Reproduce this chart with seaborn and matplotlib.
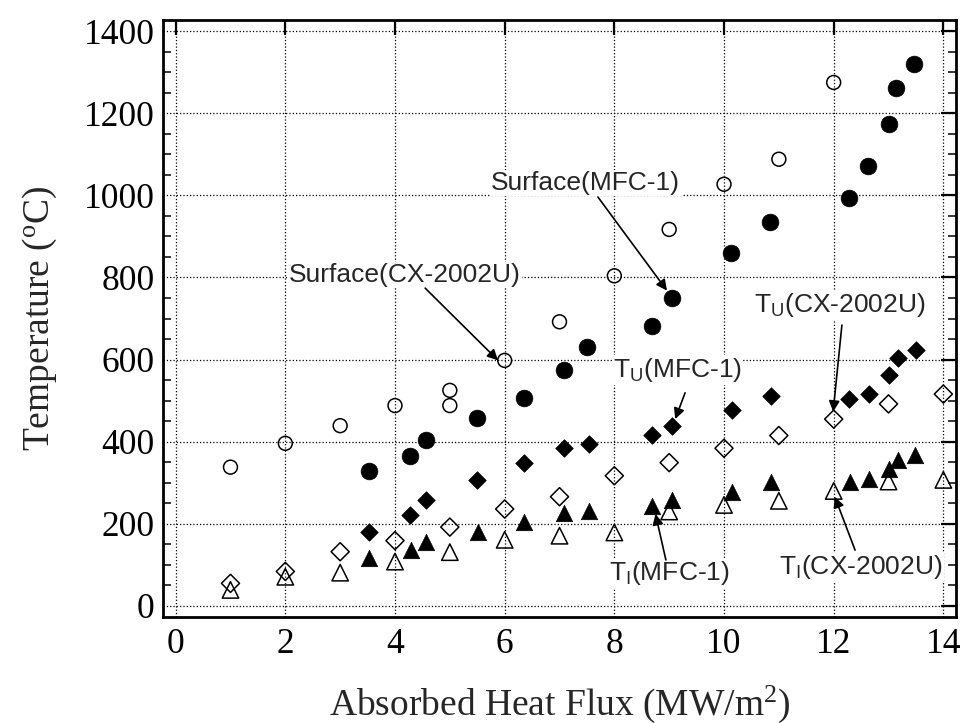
import matplotlib
matplotlib.use("Agg")
import matplotlib.pyplot as plt
import seaborn as sns
from matplotlib.ticker import MultipleLocator

# heat flux (MW/m2) and temperatures (deg C)
surf_cx_x = [1, 2, 3, 4, 5, 5, 6, 7, 8, 9, 10, 11, 12]
surf_cx_y = [338, 396, 439, 488, 525, 488, 598, 692, 804, 917, 1027, 1088, 1275]

surf_mfc_x = [3.53, 4.28, 4.56, 5.50, 6.36, 7.09, 7.51, 8.68, 9.05, 10.12, 10.84, 12.28, 12.63, 13.0, 13.14, 13.47]
surf_mfc_y = [329, 365, 404, 457, 506, 575, 631, 682, 751, 859, 936, 993, 1072, 1173, 1262, 1321]

tu_mfc_x = [3.53, 4.28, 4.56, 5.50, 6.36, 7.09, 7.53, 8.68, 9.05, 10.14, 10.85, 12.28, 12.64, 13.0, 13.18, 13.51]
tu_mfc_y = [179, 222, 258, 307, 349, 384, 394, 416, 437, 476, 511, 504, 516, 562, 603, 623]

tu_cx_x = [1, 2, 3, 4, 5, 6, 7, 8, 9, 10, 11, 12, 13, 14]
tu_cx_y = [55, 84, 132, 159, 192, 236, 266, 317, 349, 384, 415, 455, 492, 516]

ti_mfc_x = [3.53, 4.29, 4.57, 5.51, 6.36, 7.09, 7.53, 8.69, 9.06, 10.15, 10.86, 12.30, 12.65, 13.0, 13.18, 13.49]
ti_mfc_y = [116, 136, 155, 181, 205, 226, 230, 244, 258, 278, 301, 301, 309, 334, 355, 368]

ti_cx_x = [1, 2, 3, 4, 5, 6, 7, 8, 9, 10, 11, 12, 13, 14]
ti_cx_y = [39, 71, 81, 108, 131, 161, 171, 179, 230, 246, 256, 280, 303, 307]

# (label, text position, arrow start, arrow tip)
annotations = [
    ("Surface(CX-2002U)", (4.17, 806), (4.55, 774), (5.88, 598)),
    ("Surface(MFC-1)", (7.48, 1030), (7.70, 996), (8.96, 768)),
    ("T$_U$(MFC-1)", (9.15, 575), (9.29, 519), (9.11, 455)),
    ("T$_U$(CX-2002U)", (12.11, 733), (12.15, 684), (11.99, 473)),
    ("T$_I$(MFC-1)", (9.0, 80), (8.94, 112), (8.75, 224)),
    ("T$_I$(CX-2002U)", (12.5, 95), (12.39, 136), (12.02, 266)),
]

sns.set_style("white")
plt.rcParams["font.family"] = ["Liberation Serif", "DejaVu Serif"]
plt.rcParams["mathtext.default"] = "regular"

fig = plt.figure(figsize=(9.63, 7.23), dpi=100)
ax = fig.add_axes([0.1693, 0.1466, 0.8234, 0.8257])

open_kw = dict(facecolor="none", edgecolor="black", linewidth=1.1, zorder=3)
fill_kw = dict(color="black", edgecolor="black", linewidth=0.5, zorder=3)

sns.scatterplot(x=surf_cx_x, y=surf_cx_y, marker="o", s=100, ax=ax, **open_kw)
sns.scatterplot(x=surf_mfc_x, y=surf_mfc_y, marker="o", s=145, ax=ax, **fill_kw)
sns.scatterplot(x=tu_mfc_x, y=tu_mfc_y, marker="D", s=80, ax=ax, **fill_kw)
sns.scatterplot(x=tu_cx_x, y=tu_cx_y, marker="D", s=85, ax=ax, **open_kw)
sns.scatterplot(x=ti_mfc_x, y=ti_mfc_y, marker="^", s=140, ax=ax, **fill_kw)
sns.scatterplot(x=ti_cx_x, y=ti_cx_y, marker="^", s=140, ax=ax, **open_kw)

for label, txt, start, tip in annotations:
    ax.text(*txt, label, family=["Liberation Sans", "DejaVu Sans"], fontsize=19,
            ha="center", va="center", zorder=4,
            bbox=dict(facecolor="white", edgecolor="none", pad=1))
    ax.annotate("", xy=tip, xytext=start, zorder=5,
                arrowprops=dict(arrowstyle="-|>", color="black", lw=1.2,
                                mutation_scale=16, shrinkA=0, shrinkB=0))

ax.set_xlim(-0.23, 14.23)
ax.set_ylim(-27, 1427)
ax.xaxis.set_major_locator(MultipleLocator(2))
ax.yaxis.set_major_locator(MultipleLocator(200))
ax.yaxis.set_minor_locator(MultipleLocator(50))

ax.grid(True, which="major", color="black", linestyle=":", linewidth=0.9)
ax.set_axisbelow(True)
for sp in ax.spines.values():
    sp.set_linewidth(2.0)
    sp.set_color("black")

ax.tick_params(axis="both", which="major", direction="in", length=11, width=1.6,
               top=True, right=True, labelsize=25.5, colors="black")
ax.tick_params(axis="y", which="minor", direction="in", length=6, width=1.3,
               left=True, right=True)
ax.tick_params(axis="x", pad=8)
ax.tick_params(axis="y", pad=6)

ax.set_xlabel("Absorbed Heat Flux (MW/m$^2$)", fontsize=27, labelpad=16)
ax.set_ylabel("Temperature ($^o$C)", fontsize=27, labelpad=18)

fig.savefig("out.png", dpi=100)
